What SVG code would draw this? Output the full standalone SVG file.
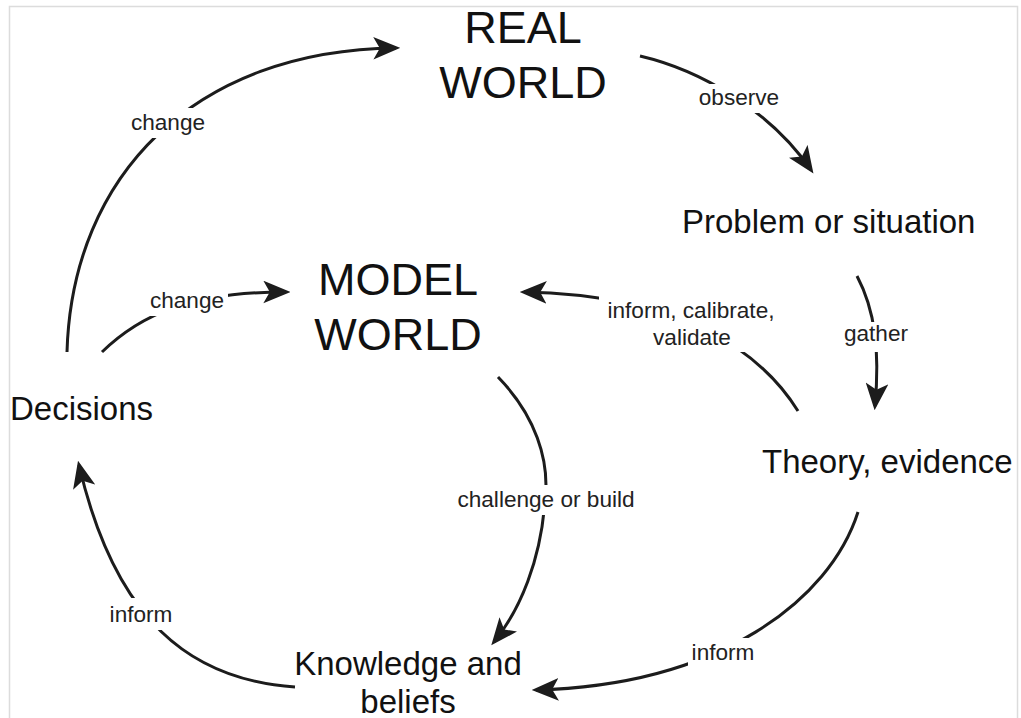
<svg xmlns="http://www.w3.org/2000/svg" width="1021" height="718" viewBox="0 0 1021 718">
<style>
.big{font-family:"Liberation Sans",Arial,sans-serif;font-size:45px;fill:#111}
.mid{font-family:"Liberation Sans",Arial,sans-serif;font-size:33px;fill:#111}
.lbl{font-family:"Liberation Sans",Arial,sans-serif;font-size:22.6px;fill:#222}
.edge{fill:none;stroke:#1c1c1c;stroke-width:3;marker-end:url(#arr)}
.gap{fill:#fff}
</style>
<defs>
<marker id="arr" markerUnits="userSpaceOnUse" markerWidth="27" markerHeight="23" viewBox="0 0 25 21" refX="21" refY="10.5" orient="auto">
<path d="M0,0 L25,10.5 L0,21 L6,10.5 z" fill="#1c1c1c"/>
</marker>
</defs>
<rect x="0" y="0" width="1021" height="718" fill="#fff"/>
<rect x="9.5" y="6.5" width="1008" height="730" fill="#fff" stroke="#dcdcdc" stroke-width="1.5"/>

<g id="connectors">
<path class="edge" d="M67,352 C72,175 195,50 396,48"/>
<path class="edge" d="M640,56 C700,70 770,110 811,170"/>
<path class="edge" d="M857,276 C875,310 880,350 875,406"/>
<path class="edge" d="M798,411 C760,350 680,295 524,292"/>
<path class="edge" d="M102,352 C140,315 190,292 286,292"/>
<path class="edge" d="M498,377 C535,415 550,460 545,500 C541,560 520,610 494,642"/>
<path class="edge" d="M858,512 C830,600 720,685 536,690"/>
<path class="edge" d="M295,687 C190,680 115,620 79,465"/>

<rect class="gap" x="126" y="108" width="85" height="30"/>
<text class="lbl" x="168" y="130" text-anchor="middle">change</text>
<rect class="gap" x="694" y="84" width="90" height="29"/>
<text class="lbl" x="739" y="105" text-anchor="middle">observe</text>
<rect class="gap" x="839" y="322" width="73" height="30"/>
<text class="lbl" x="876" y="341" text-anchor="middle">gather</text>
<rect class="gap" x="599" y="294" width="183" height="58"/>
<text class="lbl" x="691" y="318" text-anchor="middle">inform, calibrate,</text>
<text class="lbl" x="692" y="345" text-anchor="middle">validate</text>
<rect class="gap" x="145" y="291" width="83" height="25"/>
<text class="lbl" x="187" y="308" text-anchor="middle">change</text>
<rect class="gap" x="451" y="485" width="190" height="30"/>
<text class="lbl" x="546" y="507" text-anchor="middle">challenge or build</text>
<rect class="gap" x="106" y="598" width="71" height="32"/>
<text class="lbl" x="141" y="622" text-anchor="middle">inform</text>
<rect class="gap" x="688" y="638" width="71" height="29"/>
<text class="lbl" x="723" y="660" text-anchor="middle">inform</text>
</g>

<g id="real-world">
<text class="big" x="523" y="43" text-anchor="middle">REAL</text>
<text class="big" x="523" y="98" text-anchor="middle">WORLD</text>
</g>
<g id="model-world">
<text class="big" x="398" y="295" text-anchor="middle">MODEL</text>
<text class="big" x="398" y="350" text-anchor="middle">WORLD</text>
</g>
<g id="problem">
<text class="mid" x="682" y="233">Problem or situation</text>
</g>
<g id="theory">
<text class="mid" x="762" y="473">Theory, evidence</text>
</g>
<g id="decisions">
<text class="mid" x="10" y="420">Decisions</text>
</g>
<g id="knowledge">
<text class="mid" x="408" y="675" text-anchor="middle">Knowledge and</text>
<text class="mid" x="408" y="713" text-anchor="middle">beliefs</text>
</g>
</svg>
